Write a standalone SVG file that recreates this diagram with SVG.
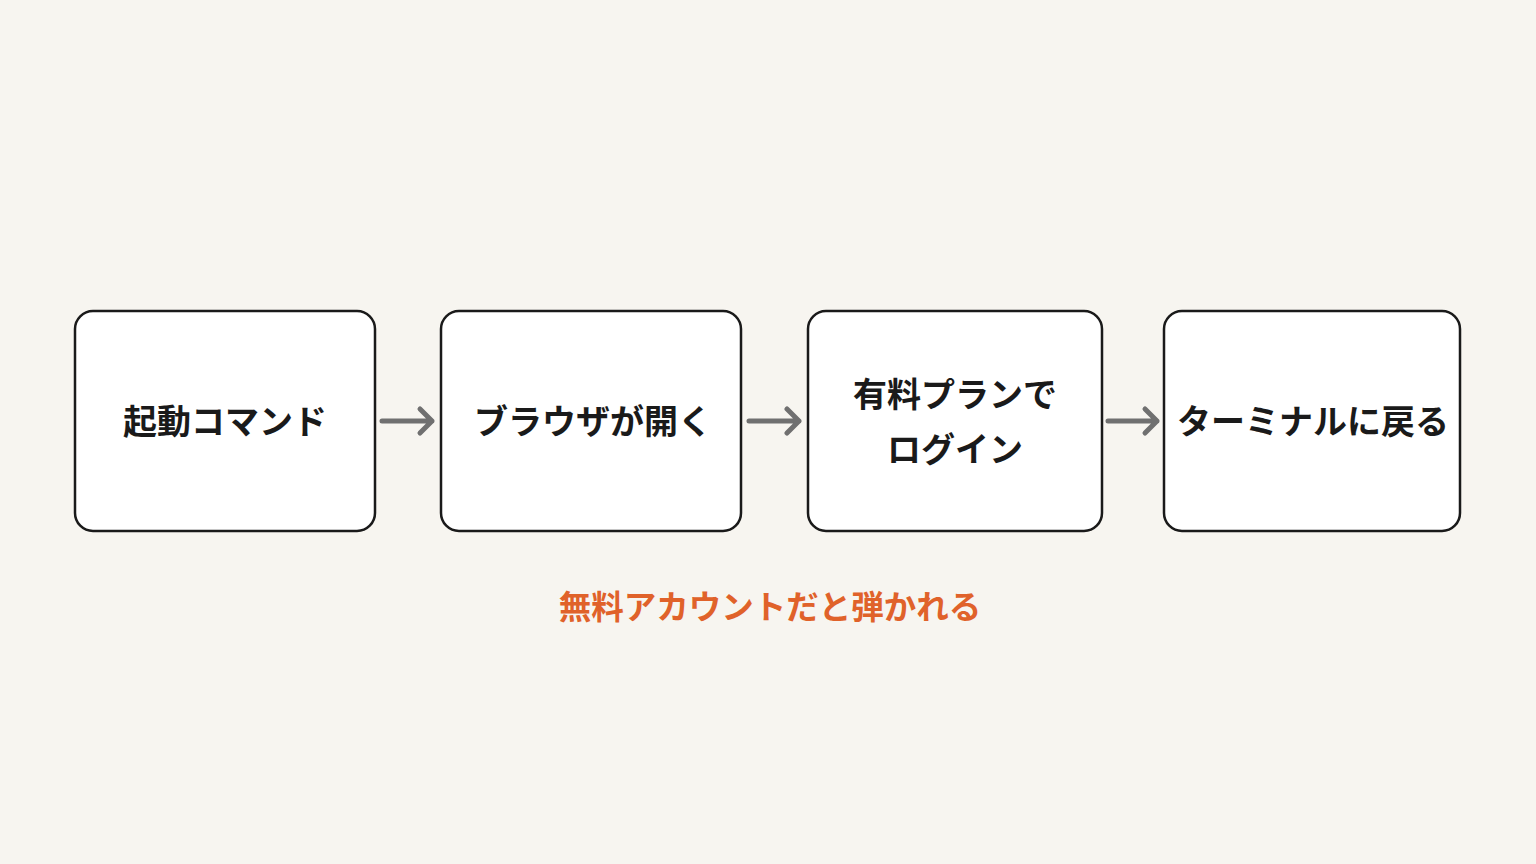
<svg xmlns="http://www.w3.org/2000/svg" width="1536" height="864" viewBox="0 0 1536 864">
<defs>
<style>
.box{fill:#fff;stroke:#1a1a1a;stroke-width:2.5}
.t{font-family:"Noto Sans CJK JP",sans-serif;font-weight:700;font-size:34px;fill:#1a1a1a;text-anchor:middle}
.c{stroke:#707070;stroke-width:5;fill:none;stroke-linecap:round;stroke-linejoin:round}
.note{font-family:"Noto Sans CJK JP",sans-serif;font-weight:700;font-size:32.5px;fill:#e0622a;text-anchor:middle}
</style>
</defs>
<rect width="1536" height="864" fill="#f7f5f0"/>
<g id="n1"><rect class="box" x="75" y="311" width="300" height="220" rx="18"/><text class="t" x="225" y="434">起動コマンド</text></g>
<g id="n2"><rect class="box" x="441" y="311" width="300" height="220" rx="18"/><text class="t" x="593" y="434">ブラウザが開く</text></g>
<g id="n3"><rect class="box" x="808" y="311" width="294" height="220" rx="18"/><text class="t" x="955" y="407">有料プランで</text><text class="t" x="955" y="462">ログイン</text></g>
<g id="n4"><rect class="box" x="1164" y="311" width="296" height="220" rx="18"/><text class="t" x="1313" y="434">ターミナルに戻る</text></g>
<g id="connectors">
<path class="c" d="M382 421H432M420 409L432 421L420 433"/>
<path class="c" d="M749 421H799M787 409L799 421L787 433"/>
<path class="c" d="M1108 421H1157M1145 409L1157 421L1145 433"/>
</g>
<text class="note" x="770" y="619">無料アカウントだと弾かれる</text>
</svg>
